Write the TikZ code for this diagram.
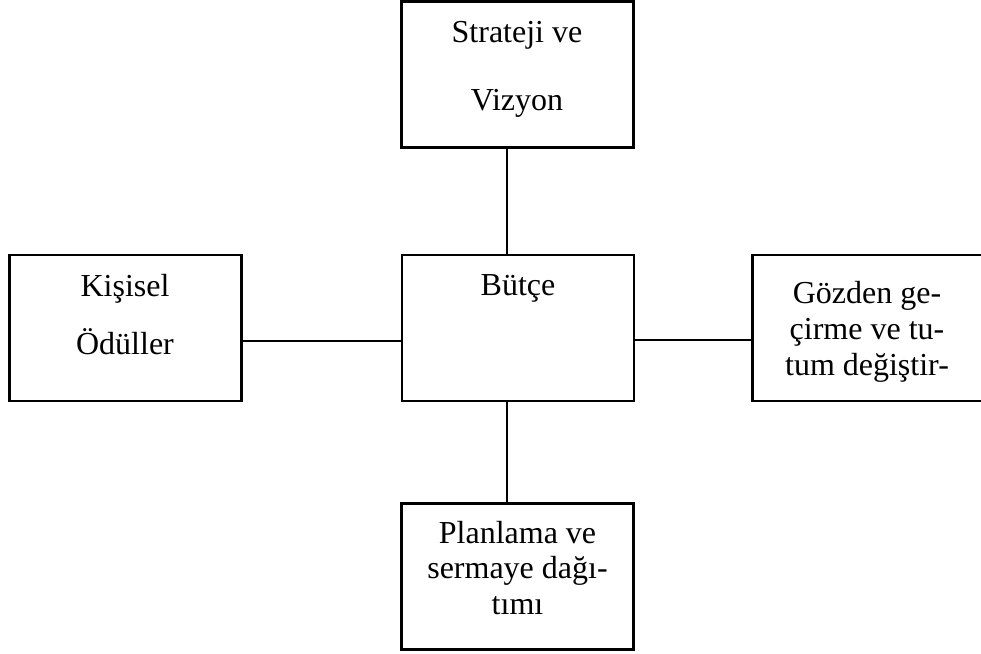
\documentclass[tikz,border=0pt]{standalone}
\usepackage{fontspec}
\setmainfont{Liberation Serif}
\begin{document}
\begin{tikzpicture}[x=1pt,y=-1pt,
  box/.style={draw,line width=2.4pt,minimum width=232pt,minimum height=146pt,inner sep=0pt},
  lbl/.style={align=center,anchor=base,inner sep=0pt},
  link/.style={line width=1.8pt}]
\useasboundingbox (0,0) rectangle (981,653);

% boxes
\node[box] (strat) at (517.5,74.5) {};
\node[box] (budget) at (518,328) {};
\node[box] (reward) at (125.5,328) {};
\node[box] (review) at (868.5,328) {};
\node[box] (plan) at (517.5,576.5) {};

% texts (anchored at the baseline of the last line)
\node[lbl,font=\fontsize{32}{68}\selectfont] (stratT) at (517,110) {Strateji ve\\Vizyon};
\node[lbl,font=\fontsize{32}{36}\selectfont] (budgetT) at (518,295) {Bütçe};
\node[lbl,font=\fontsize{32}{58}\selectfont] (rewardT) at (125,354) {Kişisel\\Ödüller};
\node[lbl,font=\fontsize{32}{36}\selectfont] (reviewT) at (867,375) {Gözden ge-\\çirme ve tu-\\tum değiştir-};
\node[lbl,font=\fontsize{32}{35.5}\selectfont] (planT) at (517.5,614) {Planlama ve\\sermaye dağı-\\tımı};

% connector guides
\coordinate (vx) at (507,0);
\coordinate (hl) at (0,341);
\coordinate (hr) at (0,340);

% connectors
\draw[link] (vx |- strat.south) -- (vx |- budget.north);
\draw[link] (vx |- budget.south) -- (vx |- plan.north);
\draw[link] (hl -| reward.east) -- (hl -| budget.west);
\draw[link] (hr -| budget.east) -- (hr -| review.west);
\end{tikzpicture}
\end{document}
